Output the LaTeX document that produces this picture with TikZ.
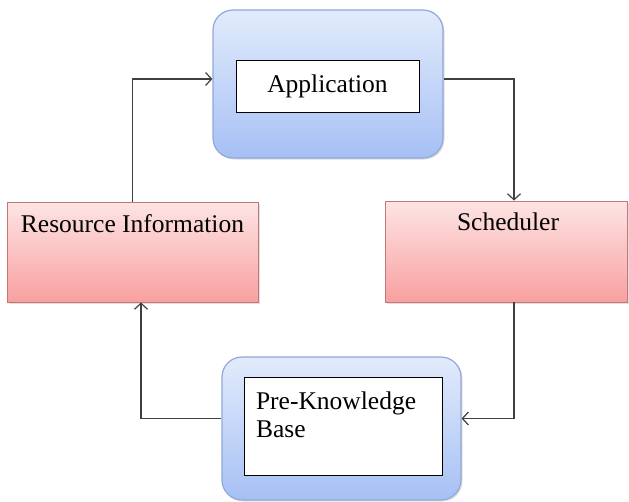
\documentclass[tikz,border=0pt]{standalone}
\usepackage{fontspec}
\setmainfont{Liberation Serif}
\usetikzlibrary{arrows.meta,shadows}

\definecolor{bluetop}{HTML}{E2EBFC}
\definecolor{bluebot}{HTML}{A6C0F4}
\definecolor{blueline}{HTML}{8FA8D8}
\definecolor{redtop}{HTML}{FDE4E4}
\definecolor{redbot}{HTML}{F9A0A0}
\definecolor{redline}{HTML}{C07878}
\definecolor{flowgray}{HTML}{404040}

\tikzset{every node/.append style={font=\fontsize{25.5}{28}\selectfont}}

\begin{document}
\begin{tikzpicture}[x=1pt,y=-1pt,
	holder/.style={draw=blueline,line width=1.2pt,rounded corners=20pt,
		top color=bluetop,bottom color=bluebot,
		drop shadow={opacity=0.25,shadow xshift=1.5pt,shadow yshift=-1.5pt}},
	inbox/.style={draw=black,line width=1pt,fill=white,inner sep=0pt},
	stagebox/.style={draw=redline,line width=0.9pt,inner sep=0pt,
		top color=redtop,bottom color=redbot,
		drop shadow={opacity=0.25,shadow xshift=1.5pt,shadow yshift=-1.5pt}},
	flow/.style={draw=flowgray,line width=1.2pt,
		-{Straight Barb[length=6pt,width=13pt,line width=1.2pt]}}]
	\useasboundingbox (0,0) rectangle (629,501);

	% application
	\node[holder,minimum width=230,minimum height=148] (app) at (328,84) {};
	\node[inbox,minimum width=183,minimum height=52] (appin) at (327.5,86) {\raisebox{2pt}{Application}};

	% the two stages
	\node[stagebox,minimum width=251,minimum height=100,
		label={[anchor=north,yshift=-9pt]north:Resource Information}] (res) at (132.5,252) {};
	\node[stagebox,minimum width=242,minimum height=101,
		label={[anchor=north,yshift=-9pt,xshift=2pt]north:Scheduler}] (sched) at (506,251.5) {};

	% knowledge base
	\node[holder,minimum width=239,minimum height=143] (pkb) at (341.5,428.5) {};
	\node[inbox,minimum width=198,minimum height=98,
		label={[anchor=north west,align=left,xshift=9pt,yshift=-12pt]north west:Pre-Knowledge\\Base}] (pkbin) at (343,426) {};

	% loop
	\draw[flow] (res.north) |- ([yshift=5pt]app.west);
	\draw[flow] ([yshift=5pt]app.east) -| ([xshift=8pt]sched.north);
	\draw[flow] ([xshift=8pt]sched.south) |- ([yshift=10pt]pkb.east);
	\draw[flow] ([yshift=10pt]pkb.west) -| ([xshift=8.5pt]res.south);
\end{tikzpicture}
\end{document}
